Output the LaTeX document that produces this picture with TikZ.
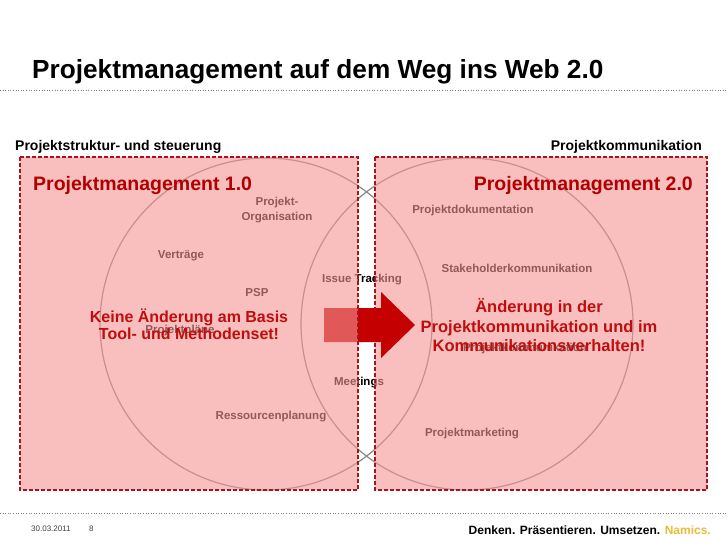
\documentclass[tikz,border=0pt]{standalone}
\usepackage{fontspec}
\setmainfont{Liberation Sans}
\definecolor{pmred}{RGB}{178,0,0}
\definecolor{msgred}{RGB}{190,14,14}
\definecolor{boxpink}{RGB}{245,147,147}
\definecolor{boxline}{RGB}{170,18,30}
\definecolor{arrowred}{RGB}{196,0,0}
\definecolor{ringgray}{RGB}{135,135,135}
\definecolor{namicsgold}{RGB}{232,186,58}
\begin{document}
\begin{tikzpicture}[x=1pt,y=-1pt,
    lbl/.style={inner sep=0pt,align=center,font=\fontsize{11.5}{15}\selectfont\bfseries},
    head/.style={inner sep=0pt,text=pmred,font=\fontsize{19.5}{22}\selectfont\bfseries},
    msg/.style={inner sep=0pt,align=center,text=msgred,font=\fontsize{16}{17}\selectfont\bfseries},
    sub/.style={inner sep=0pt,font=\fontsize{14}{16}\selectfont\bfseries},
    pmbox/.style={fill=boxpink,fill opacity=0.6},
    pmedge/.style={draw=boxline,line width=1.4pt,dash pattern=on 4pt off 2pt}]
    \useasboundingbox (0,0) rectangle (728,546);
    % title and rules
    \node[anchor=base west,inner sep=0pt,font=\fontsize{26.2}{30}\selectfont\bfseries] (title) at (32,78) {Projektmanagement auf dem Weg ins Web 2.0};
    \draw[dotted,gray,line width=0.6pt] (0,90) -- (728,90);
    \draw[dotted,gray,line width=0.6pt] (0,513) -- (728,513);
    \node[sub,anchor=base west] (struktur) at (15,150) {Projektstruktur- und steuerung};
    \node[sub,anchor=base east] (kommunikation) at (702,150) {Projektkommunikation};
    % the two rings
    \draw[ringgray,line width=1.2pt] (266,324) circle[radius=166];
    \draw[ringgray,line width=1.2pt] (467,324) circle[radius=166];
    % labels under the boxes
    \node[lbl] (orga) at (277,210.5) {Projekt-\\Organisation};
    \node[lbl] (doku) at (473,211) {Projektdokumentation};
    \node[lbl] (vertraege) at (181,256) {Verträge};
    \node[lbl] (stakeholder) at (517,268) {Stakeholderkommunikation};
    \node[lbl] (issue) at (362,280) {Issue Tracking};
    \node[lbl] (psp) at (257,293) {PSP};
    \node[lbl] (plaene) at (180,331) {Projektpläne};
    \node[lbl] (projkomm) at (525,349) {Projektkommunikation};
    \node[lbl] (meetings) at (359,383) {Meetings};
    \node[lbl] (ressourcen) at (271,417) {Ressourcenplanung};
    \node[lbl] (marketing) at (472,434) {Projektmarketing};
    % right box, arrow, left box
    \fill[pmbox] (375,157) rectangle (707,490);
    \draw[pmedge] (375,157) rectangle (707,490);
    \fill[arrowred] (324,308) -- (381,308) -- (381,292) -- (415,325) -- (381,358) -- (381,342) -- (324,342) -- cycle;
    \fill[pmbox] (20,157) rectangle (358,490);
    \draw[pmedge] (20,157) rectangle (358,490);
    % headings and messages
    \node[head,anchor=base west] (pmeins) at (33,190) {Projektmanagement 1.0};
    \node[head,anchor=base east] (pmzwei) at (693,190) {Projektmanagement 2.0};
    \node[msg] (keine) at (189,324.5) {Keine Änderung am Basis\\Tool- und Methodenset!};
    \node[msg,font=\fontsize{16.5}{19.5}\selectfont\bfseries] (aenderung) at (539,325.5) {Änderung in der\\Projektkommunikation und im\\Kommunikationsverhalten!};
    % footer
    \node[anchor=base west,inner sep=0pt,text=black!75,font=\fontsize{8}{9}\selectfont] (datum) at (31,531) {30.03.2011};
    \node[anchor=base west,inner sep=0pt,text=black!75,font=\fontsize{8}{9}\selectfont] (seite) at (89,531) {8};
    \node[anchor=base east,inner sep=0pt,font=\fontsize{12}{14}\selectfont\bfseries] (claim) at (711,534) {Denken. Präsentieren. Umsetzen. \textcolor{namicsgold}{Namics.}};
\end{tikzpicture}
\end{document}
